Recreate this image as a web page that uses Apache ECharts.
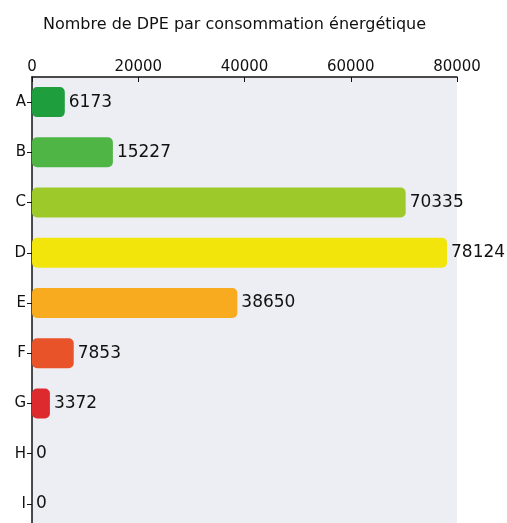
<!DOCTYPE html>
<html>
<head>
<meta charset="utf-8">
<script src="https://cdn.jsdelivr.net/npm/echarts@6/dist/echarts.min.js"></script>
<style>
  html, body { margin: 0; padding: 0; background: #fff; overflow: hidden; }
  #chart { width: 507px; height: 532px; }
</style>
</head>
<body>
<div id="chart"></div>
<script>
const categories = ["A", "B", "C", "D", "E", "F", "G", "H", "I"];
const values = [6173, 15227, 70335, 78124, 38650, 7853, 3372, 0, 0];
const barColors = ["#1e9e3c", "#4fb646", "#9dc92a", "#f2e50c", "#f8ab1e", "#e9532a", "#dd2a2e", "#dd2a2e", "#dd2a2e"];
const xTicks = [0, 20000, 40000, 60000, 80000];

const font = "DejaVu Sans";
const myChart = echarts.init(document.getElementById("chart"));
myChart.setOption({
  animation: false,
  title: {
    text: "Nombre de DPE par consommation énergétique",
    left: 38,
    top: 12,
    textStyle: { fontFamily: font, fontSize: 16, fontWeight: "normal", color: "#111" }
  },
  grid: {
    left: 32,
    top: 77,
    width: 425,
    height: 452,
    show: true,
    backgroundColor: "#eceef4",
    borderWidth: 0
  },
  xAxis: {
    type: "value",
    position: "top",
    min: xTicks[0],
    max: xTicks[xTicks.length - 1],
    interval: 20000,
    axisLine: { show: true, lineStyle: { color: "#111", width: 1.5 } },
    axisTick: { show: true, inside: true, length: 5, lineStyle: { color: "#111" } },
    splitLine: { show: false },
    axisLabel: { fontFamily: font, fontSize: 15, color: "#111", margin: 2, formatter: v => String(v) }
  },
  yAxis: {
    type: "category",
    inverse: true,
    data: categories,
    axisLine: { show: true, lineStyle: { color: "#111", width: 1.5 } },
    axisTick: { show: true, alignWithLabel: true, length: 5, lineStyle: { color: "#111" } },
    axisLabel: { fontFamily: font, fontSize: 15, color: "#111", margin: 6 }
  },
  series: [{
    type: "bar",
    data: values.map((v, i) => ({ value: v, itemStyle: { color: barColors[i] } })),
    barWidth: 30,
    itemStyle: { borderRadius: 5 },
    label: {
      show: true,
      position: "right",
      distance: 4,
      fontFamily: font,
      fontSize: 17,
      color: "#111"
    }
  }]
});
</script>
</body>
</html>
